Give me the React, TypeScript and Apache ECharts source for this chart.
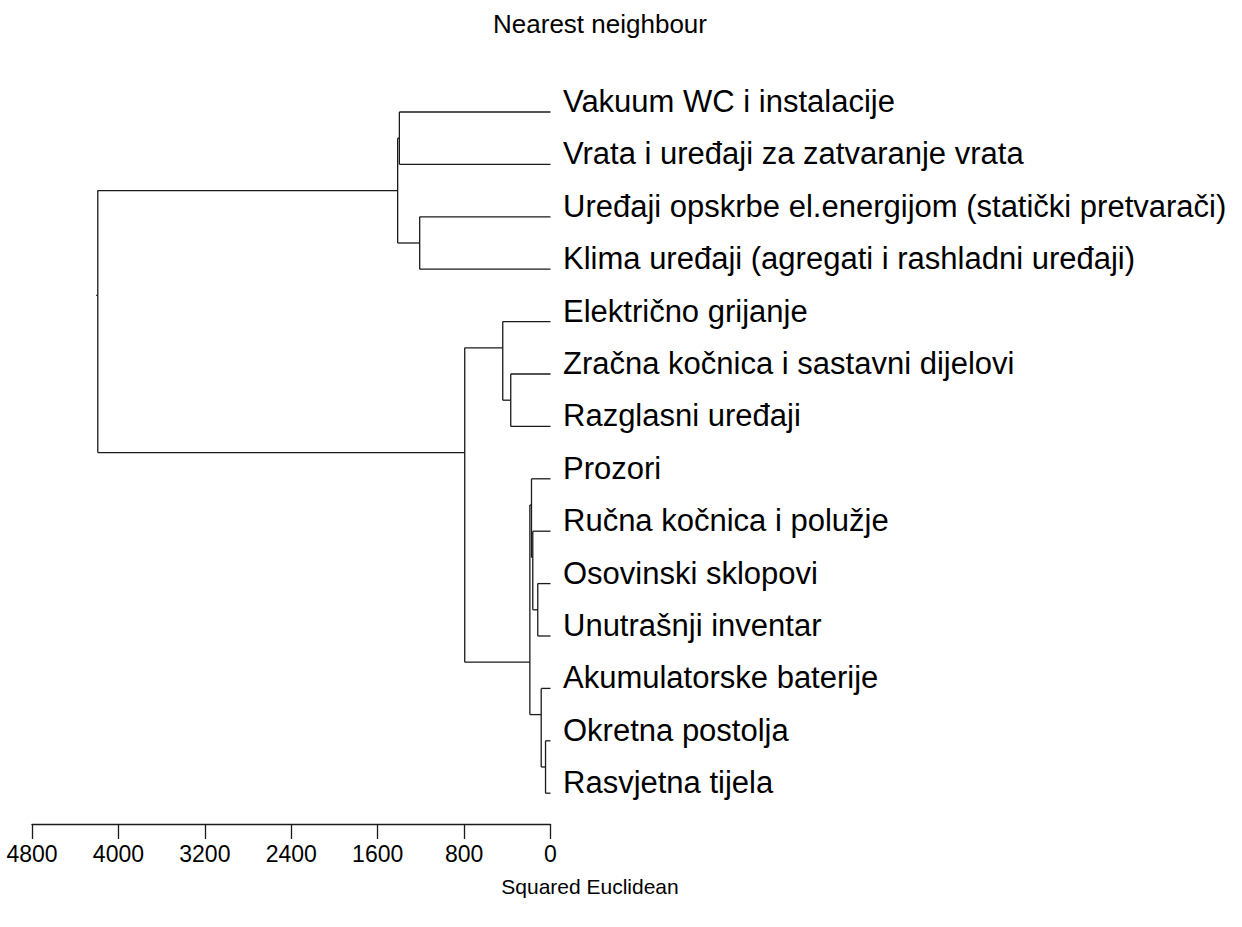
import React, { useEffect, useRef } from "react";
import * as echarts from "echarts";

const leaves = [
  "Vakuum WC i instalacije",
  "Vrata i uređaji za zatvaranje vrata",
  "Uređaji opskrbe el.energijom (statički pretvarači)",
  "Klima uređaji (agregati i rashladni uređaji)",
  "Električno grijanje",
  "Zračna kočnica i sastavni dijelovi",
  "Razglasni uređaji",
  "Prozori",
  "Ručna kočnica i polužje",
  "Osovinski sklopovi",
  "Unutrašnji inventar",
  "Akumulatorske baterije",
  "Okretna postolja",
  "Rasvjetna tijela",
];

// linkage: ids < 14 are leaves, id 14+k is merge k
const mergeLeft = [12, 11, 9, 8, 7, 18, 5, 4, 21, 2, 0, 24, 25];
const mergeRight = [13, 14, 10, 16, 17, 15, 6, 20, 19, 3, 1, 23, 22];
const mergeHeight = [46, 86, 118, 164, 176, 191, 368, 442, 794, 1211, 1399, 1415, 4191];

const axisTicks = [0, 800, 1600, 2400, 3200, 4000, 4800];

const titleText = "Nearest neighbour";
const axisTitle = "Squared Euclidean";

const FONT = "Liberation Sans, Arial, sans-serif";

function buildRows() {
  const n = leaves.length;
  const minLeaf: number[] = [];
  const maxLeaf: number[] = [];
  const yc: number[] = [];
  const hh: number[] = [];
  for (let i = 0; i < n; i++) {
    minLeaf[i] = i;
    maxLeaf[i] = i;
    yc[i] = i;
    hh[i] = 0;
  }
  const rows: number[][] = [];
  mergeHeight.forEach((h, k) => {
    const a = mergeLeft[k];
    const b = mergeRight[k];
    const id = n + k;
    minLeaf[id] = Math.min(minLeaf[a], minLeaf[b]);
    maxLeaf[id] = Math.max(maxLeaf[a], maxLeaf[b]);
    yc[id] = (maxLeaf[a] + minLeaf[b]) / 2;
    hh[id] = h;
    const isRoot = k === mergeHeight.length - 1 ? 1 : 0;
    rows.push([h, yc[a], yc[b], hh[a], hh[b], yc[id], isRoot]);
  });
  return rows;
}

export default function App() {
  const ref = useRef<HTMLDivElement>(null);
  useEffect(() => {
    if (!ref.current) return;
    const chart = echarts.init(ref.current, null, { renderer: "svg" });
    const rows = buildRows();
    const lineStyle = { stroke: "#1a1a1a", lineWidth: 1.3 };
    const option = {
      animation: false,
      backgroundColor: "#ffffff",
      grid: { left: 32, right: 691.5, top: 112, bottom: 133.8, containLabel: false },
      graphic: [
        {
          type: "text",
          x: 600,
          y: 24,
          style: {
            text: titleText,
            fontSize: 26,
            fontFamily: FONT,
            fill: "#000",
            align: "center",
            verticalAlign: "middle",
          },
        },
        {
          type: "text",
          x: 590,
          y: 886,
          style: {
            text: axisTitle,
            fontSize: 21,
            fontFamily: FONT,
            fill: "#000",
            align: "center",
            verticalAlign: "middle",
          },
        },
      ],
      xAxis: {
        type: "value",
        inverse: true,
        min: axisTicks[0],
        max: axisTicks[axisTicks.length - 1],
        interval: 800,
        position: "bottom",
        offset: 30.8,
        axisLine: { show: true, onZero: false, lineStyle: { color: "#1a1a1a", width: 1.3 } },
        axisTick: { show: true, length: 15, lineStyle: { color: "#1a1a1a", width: 1.3 } },
        axisLabel: {
          show: true,
          margin: 18,
          fontSize: 23,
          color: "#000",
          fontFamily: FONT,
          formatter: (v: number) => String(v),
        },
        splitLine: { show: false },
      },
      yAxis: {
        type: "value",
        inverse: true,
        min: 0,
        max: leaves.length - 1,
        interval: 1,
        position: "right",
        axisLine: { show: false },
        axisTick: { show: false },
        splitLine: { show: false },
        axisLabel: {
          show: true,
          margin: 12.5,
          fontSize: 31,
          lineHeight: 21,
          color: "#000",
          fontFamily: FONT,
          verticalAlign: "bottom",
          formatter: (v: number) => leaves[Math.round(v)] ?? "",
        },
      },
      series: [
        {
          type: "custom",
          clip: false,
          data: rows,
          encode: { x: 0, y: 1 },
          renderItem: (params: any, api: any) => {
            const h = api.value(0);
            const ya = api.value(1);
            const yb = api.value(2);
            const ha = api.value(3);
            const hb = api.value(4);
            const yself = api.value(5);
            const isRoot = api.value(6);
            const pTopA = api.coord([h, ya]);
            const pTopB = api.coord([h, yb]);
            const pA = api.coord([ha, ya]);
            const pB = api.coord([hb, yb]);
            const children: any[] = [
              { type: "line", shape: { x1: pTopA[0], y1: pTopA[1], x2: pTopB[0], y2: pTopB[1] }, style: lineStyle },
              { type: "line", shape: { x1: pA[0], y1: pA[1], x2: pTopA[0], y2: pTopA[1] }, style: lineStyle },
              { type: "line", shape: { x1: pB[0], y1: pB[1], x2: pTopB[0], y2: pTopB[1] }, style: lineStyle },
            ];
            if (isRoot) {
              const r1 = api.coord([h, yself]);
              const r2 = api.coord([h + 15, yself]);
              children.push({ type: "line", shape: { x1: r2[0], y1: r2[1], x2: r1[0], y2: r1[1] }, style: lineStyle });
            }
            return { type: "group", children };
          },
        },
      ],
    };
    chart.setOption(option as any);
    return () => chart.dispose();
  }, []);
  return (
    <div
      ref={ref}
      style={{ position: "fixed", left: 0, top: 0, width: 1242, height: 927, background: "#fff" }}
    />
  );
}
